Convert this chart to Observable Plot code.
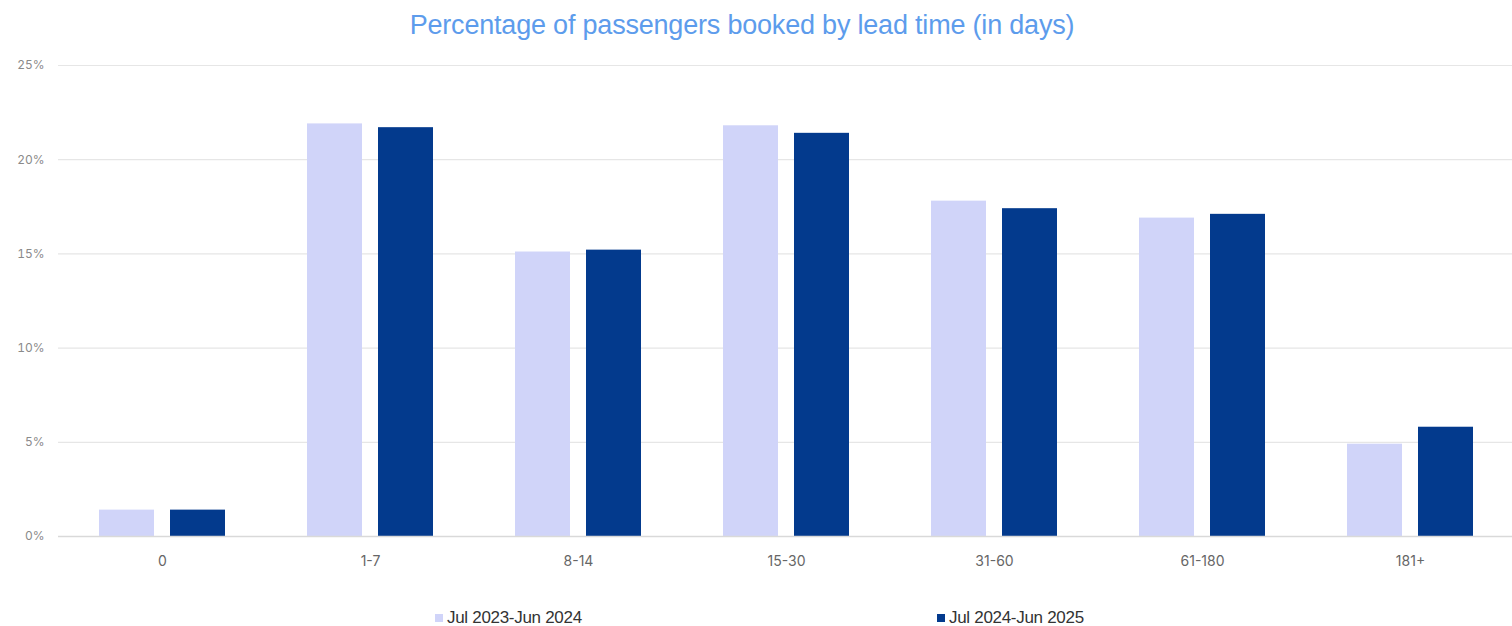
<!DOCTYPE html>
<html>
<head>
<meta charset="utf-8">
<script src="https://cdn.jsdelivr.net/npm/d3@7"></script>
<script src="https://cdn.jsdelivr.net/npm/@observablehq/plot@0.6"></script>
<style>
  html, body { margin: 0; padding: 0; background: #ffffff; }
  #wrap { width: 1512px; height: 626px; position: relative; overflow: hidden; }
  #title { height: 45px; line-height: 50px; text-align: center; padding-right: 28px;
    font-family: "Liberation Sans", Arial, sans-serif; font-size: 27px; color: #5d9cec; letter-spacing: -0.2px; }
  #legend { position: relative; height: 50px; font-family: "Liberation Sans", Arial, sans-serif; font-size: 17px; color: #333; }
  .item { position: absolute; top: 32px; display: flex; align-items: center; white-space: nowrap; letter-spacing: -0.3px; }
  .sw { width: 8px; height: 8px; margin-right: 4px; display: inline-block; }
  svg { display: block; }
</style>
</head>
<body>
<div id="wrap">
  <div id="title">Percentage of passengers booked by lead time (in days)</div>
  <div id="chart"></div>
  <div id="legend"></div>
</div>
<script>
const categories = ["0", "1-7", "8-14", "15-30", "31-60", "61-180", "181+"];
const seriesNames = ["Jul 2023-Jun 2024", "Jul 2024-Jun 2025"];
const values2023 = [1.4, 21.9, 15.1, 21.8, 17.8, 16.9, 4.9];
const values2024 = [1.4, 21.7, 15.2, 21.4, 17.4, 17.1, 5.8];
const yTicks = [0, 5, 10, 15, 20, 25];
const colors = ["#d0d4f9", "#033a8d"];

const rows2023 = categories.map((c, i) => ({category: c, series: seriesNames[0], value: values2023[i]}));
const rows2024 = categories.map((c, i) => ({category: c, series: seriesNames[1], value: values2024[i]}));

const chart = Plot.plot({
  width: 1512,
  height: 531,
  marginTop: 20,
  marginBottom: 40,
  marginLeft: 58,
  marginRight: 0,
  style: { fontFamily: "Inter, 'Liberation Sans', sans-serif", background: "#ffffff" },
  x: { domain: categories, range: [58, 1515], paddingInner: 0.394, paddingOuter: 0.197, label: null },
  y: { domain: [0, 25], label: null },
  marks: [
    Plot.gridY(yTicks, { stroke: "#e6e6e6", strokeOpacity: 1, strokeWidth: 1.2 }),
    Plot.barY(rows2023, { x: "category", y: "value", fill: colors[0], insetRight: 71 }),
    Plot.barY(rows2024, { x: "category", y: "value", fill: colors[1], insetLeft: 71 }),
    Plot.ruleY([0], { stroke: "#d9d9d9", strokeWidth: 1.5 }),
    Plot.axisY(yTicks, { tickSize: 0, tickPadding: 14, tickFormat: d => d + "%", fontSize: 12, fill: "#8a8a8a", label: null }),
    Plot.axisX({ tickSize: 0, tickPadding: 20, fontSize: 14, fill: "#666", label: null })
  ]
});
document.getElementById("chart").appendChild(chart);

const legend = document.getElementById("legend");
const lefts = [435, 937];
seriesNames.forEach((name, i) => {
  const item = document.createElement("div");
  item.className = "item";
  item.style.left = lefts[i] + "px";
  const sw = document.createElement("span");
  sw.className = "sw";
  sw.style.background = colors[i];
  const t = document.createElement("span");
  t.textContent = name;
  item.appendChild(sw);
  item.appendChild(t);
  legend.appendChild(item);
});
</script>
</body>
</html>
